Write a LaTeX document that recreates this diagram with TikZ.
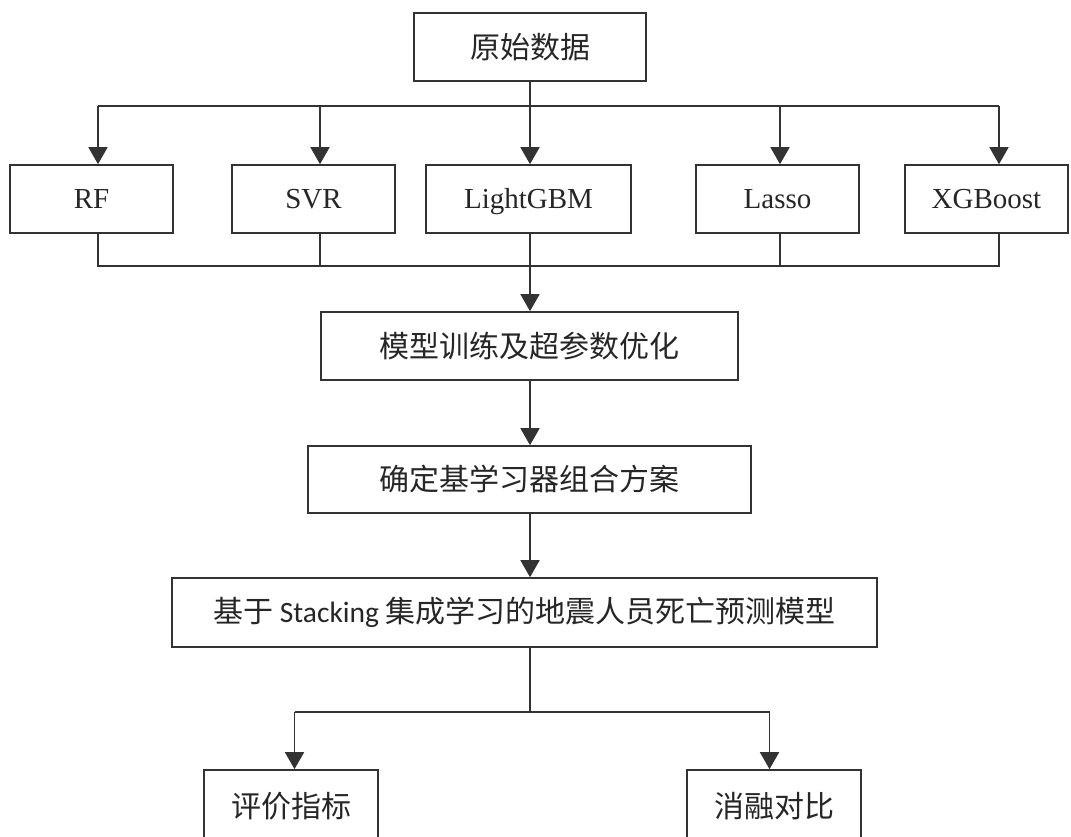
\documentclass[tikz,border=0pt]{standalone}
\usepackage{fontspec}
\setmainfont{Liberation Serif}
\newfontfamily\cjk{Noto Sans CJK SC}
\newfontfamily\calfont{Carlito}
\usetikzlibrary{arrows.meta}
\begin{document}
\begin{tikzpicture}[x=1pt,y=-1pt,
  box/.style={draw=black!80, line width=1.6pt, minimum height=68pt, inner sep=0pt,
    font=\fontsize{30}{34}\selectfont\cjk, text=black!85},
  latinbox/.style={box, font=\fontsize{29}{34}\selectfont, text height=19pt, text depth=0pt},
  line/.style={draw=black!80, line width=1.6pt},
  arr/.style={line, -{Triangle[length=17pt,width=19pt]}}]
\useasboundingbox (0,0) rectangle (1071,837);
\clip (0,0) rectangle (1071,837);
% top box
\node[box, minimum width=232pt] (raw) at (530,47) {原始数据};
% base learners
\node[latinbox, minimum width=163pt] (rf) at (91.5,199) {RF};
\node[latinbox, minimum width=163pt] (svr) at (313.5,199) {SVR};
\node[latinbox, minimum width=205pt] (lgb) at (528.5,199) {LightGBM};
\node[latinbox, minimum width=163pt] (lasso) at (777.5,199) {Lasso};
\node[latinbox, minimum width=163pt] (xgb) at (986.5,199) {XGBoost};
% chain
\node[box, minimum width=417pt] (train) at (529.5,346) {模型训练及超参数优化};
\node[box, minimum width=443pt, minimum height=67pt] (combo) at (529.5,479.5) {确定基学习器组合方案};
\node[box, minimum width=705pt, minimum height=69pt] (stack) at (524.5,612.5) {基于 {\calfont\fontsize{29.5}{34}\selectfont Stacking} 集成学习的地震人员死亡预测模型};
\node[box, minimum width=174pt, minimum height=72pt] (eval) at (291,806) {评价指标};
\node[box, minimum width=174pt, minimum height=72pt] (abl) at (774,806) {消融对比};
% branch coordinates
\coordinate (t1) at (98,106);
\coordinate (t2) at (320,106);
\coordinate (t3) at (530,106);
\coordinate (t4) at (780,106);
\coordinate (t5) at (999,106);
\coordinate (m1) at (98,266);
\coordinate (m2) at (320,266);
\coordinate (m3) at (530,266);
\coordinate (m4) at (780,266);
\coordinate (m5) at (999,266);
\coordinate (s0) at (530,712);
\coordinate (s1) at (294.5,712);
\coordinate (s2) at (769.5,712);
% top distribution
\draw[line] (t1) -- (t5);
\draw[arr] (raw.south -| t3) -- (lgb.north -| t3);
\draw[arr] (t1) -- (rf.north -| t1);
\draw[arr] (t2) -- (svr.north -| t2);
\draw[arr] (t4) -- (lasso.north -| t4);
\draw[arr] (t5) -- (xgb.north -| t5);
% collection
\draw[line] (rf.south -| m1) -- (m1) -- (m5) -- (xgb.south -| m5);
\draw[line] (svr.south -| m2) -- (m2);
\draw[line] (lasso.south -| m4) -- (m4);
\draw[line] (lgb.south -| m3) -- (m3);
\draw[arr] (m3) -- (train.north -| m3);
% chain arrows
\draw[arr] (train.south -| m3) -- (combo.north -| m3);
\draw[arr] (combo.south -| m3) -- (stack.north -| m3);
% split
\draw[line] (stack.south -| s0) -- (s0);
\draw[line] (s1) -- (s2);
\draw[arr] (s1) -- (eval.north -| s1);
\draw[arr] (s2) -- (abl.north -| s2);
\end{tikzpicture}
\end{document}
